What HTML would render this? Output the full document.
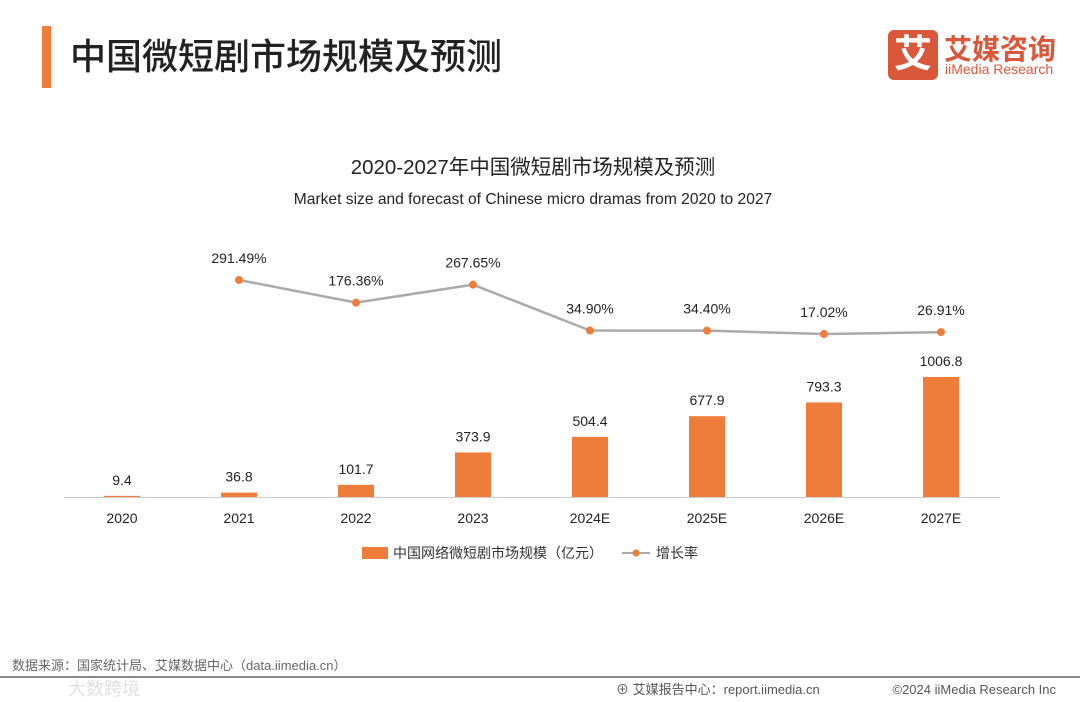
<!DOCTYPE html>
<html><head><meta charset="utf-8">
<style>
body{margin:0;width:1080px;height:702px;background:#fff;overflow:hidden;font-family:"Liberation Sans","Noto Sans CJK SC",sans-serif;position:relative}
.abs{position:absolute}
</style></head><body>
<div class="abs" style="left:42px;top:26px;width:9px;height:62px;background:#ee7d3b"></div>
<div class="abs" style="left:70px;top:28px;font-size:36px;color:#222;font-weight:500;white-space:nowrap">中国微短剧市场规模及预测</div>
<div class="abs" style="left:888px;top:30px;width:170px;height:50px">
 <div class="abs" style="left:0;top:0;width:50px;height:50px;background:#d9573a;border-radius:6px;color:#fff;font-size:38px;line-height:50px;text-align:center;font-weight:bold">艾</div>
 <div class="abs" style="left:56px;top:-2px;font-size:28px;color:#d9573a;font-weight:bold;white-space:nowrap">艾媒咨询</div>
 <div class="abs" style="left:57px;top:31px;font-size:14px;color:#d9573a;white-space:nowrap">iiMedia Research</div>
</div>
<svg class="abs" style="left:0;top:0" width="1080" height="702" id="chart">
 <text x="533" y="174" text-anchor="middle" font-size="20.5" fill="#222">2020-2027年中国微短剧市场规模及预测</text>
 <text x="533" y="204" text-anchor="middle" font-size="15.6" fill="#222">Market size and forecast of Chinese micro dramas from 2020 to 2027</text>
 <line x1="64" x2="1000" y1="497.5" y2="497.5" stroke="#ccc"/>
 <g id="bars"></g><g id="line"></g><g id="xlabels"></g>
 <rect x="362" y="547" width="26" height="12" fill="#ee7d3b"/>
 <text x="393" y="558" font-size="14" fill="#333">中国网络微短剧市场规模（亿元）</text>
 <line x1="622" x2="650" y1="553" y2="553" stroke="#aaa" stroke-width="2"/>
 <circle cx="636" cy="553" r="3.5" fill="#ee7d3b"/>
 <text x="656" y="558" font-size="14" fill="#333">增长率</text>
 <text x="12" y="670" font-size="13" fill="#666">数据来源：国家统计局、艾媒数据中心（data.iimedia.cn）</text>
 <line x1="0" x2="1080" y1="677" y2="677" stroke="#888" stroke-width="2"/>
 <text x="140" y="695" font-size="18" fill="#e0e0e0" text-anchor="end">大数跨境</text>
 <text x="616" y="694" font-size="13" fill="#555">⊕ 艾媒报告中心：report.iimedia.cn</text>
 <text x="1056" y="694" font-size="13" fill="#555" text-anchor="end">©2024  iiMedia Research Inc</text>
</svg>
<script>
const categories=["2020","2021","2022","2023","2024E","2025E","2026E","2027E"];
const marketSize=[9.4,36.8,101.7,373.9,504.4,677.9,793.3,1006.8];
const growthRate=[null,291.49,176.36,267.65,34.90,34.40,17.02,26.91];
const growthLabels=["","291.49%","176.36%","267.65%","34.90%","34.40%","17.02%","26.91%"];
const NS="http://www.w3.org/2000/svg";
const xPos=i=>122+117*i;
const yBar=v=>497-v*0.1192;
const yLine=v=>337.4-v*0.197;
function mk(tag,attrs,parent,text){const e=document.createElementNS(NS,tag);for(const k in attrs)e.setAttribute(k,attrs[k]);if(text!==undefined)e.textContent=text;document.getElementById(parent).appendChild(e);return e;}
categories.forEach((c,i)=>{
 const x=xPos(i),y=yBar(marketSize[i]);
 const r=mk('rect',{x:x-18,y:y,width:36,height:Math.max(497-y,1),fill:'#ee7d3b'},'bars');
 
 
 const t=mk('text',{x:x,y:y-11,'text-anchor':'middle','font-size':14,fill:'#222'},'bars',marketSize[i].toFixed(1));
 
 
 const xl=mk('text',{x:x,y:523,'text-anchor':'middle','font-size':14,fill:'#222'},'xlabels',c);
 
 
});
const pts=[];growthRate.forEach((v,i)=>{if(v!==null)pts.push([xPos(i),yLine(v),i]);});
const pl=mk('polyline',{points:pts.map(p=>p[0]+','+p[1]).join(' '),fill:'none',stroke:'#aaa','stroke-width':2.5},'line');


pts.forEach(p=>{
 const c=mk('circle',{cx:p[0],cy:p[1],r:4,fill:'#ee7d3b'},'line');
 
 
 const t=mk('text',{x:p[0],y:p[1]-17,'text-anchor':'middle','font-size':14,fill:'#222'},'line',growthLabels[p[2]]);
 
 
});
</script>
</body></html>
